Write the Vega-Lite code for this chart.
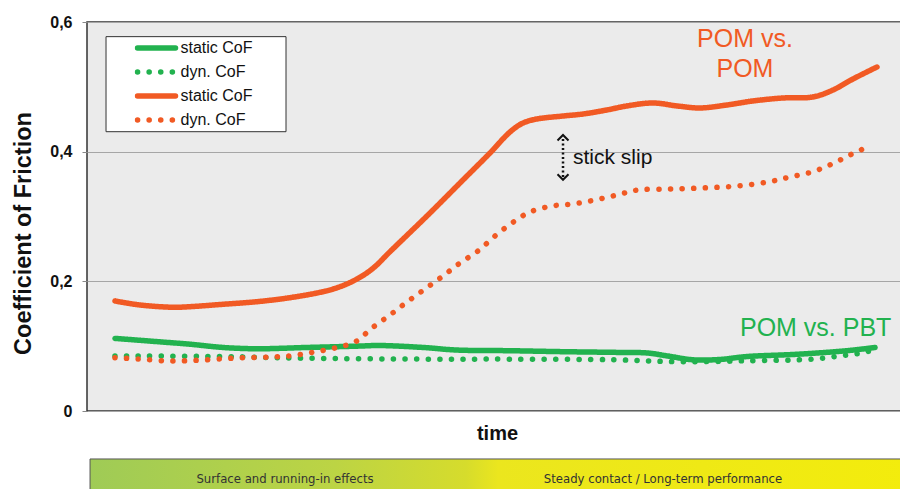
{
  "$schema": "https://vega.github.io/schema/vega-lite/v6.json",
  "width": 820,
  "height": 389,
  "autosize": {"type": "none"},
  "padding": {"left": 87, "top": 22, "right": 0, "bottom": 78},
  "background": "white",
  "config": {
    "view": {"fill": "#ebebeb", "stroke": "#333333", "strokeWidth": 1.5},
    "font": "Liberation Sans"
  },
  "layer": [
    {
      "data": {"values": [{}]},
      "mark": {"type": "rect", "fill": "white", "stroke": "#333333", "strokeWidth": 1},
      "encoding": {
        "x": {"datum": 2.32, "type": "quantitative", "scale": {"domain": [0, 100]}},
        "x2": {"datum": 24.27},
        "y": {"datum": 0.5774, "type": "quantitative", "scale": {"domain": [0, 0.6]}},
        "y2": {"datum": 0.4308}
      }
    },
    {
      "data": {"values": [
        {"series": "1|static CoF", "t": 3.41, "cof": 0.112},
        {"series": "1|static CoF", "t": 8.54, "cof": 0.107},
        {"series": "1|static CoF", "t": 12.56, "cof": 0.103},
        {"series": "1|static CoF", "t": 16.59, "cof": 0.098},
        {"series": "1|static CoF", "t": 20.73, "cof": 0.096},
        {"series": "1|static CoF", "t": 26.83, "cof": 0.098},
        {"series": "1|static CoF", "t": 32.93, "cof": 0.1},
        {"series": "1|static CoF", "t": 35.73, "cof": 0.101},
        {"series": "1|static CoF", "t": 40.98, "cof": 0.098},
        {"series": "1|static CoF", "t": 45.12, "cof": 0.094},
        {"series": "1|static CoF", "t": 51.59, "cof": 0.093},
        {"series": "1|static CoF", "t": 58.05, "cof": 0.0915},
        {"series": "1|static CoF", "t": 64.0, "cof": 0.0905},
        {"series": "1|static CoF", "t": 68.29, "cof": 0.0895},
        {"series": "1|static CoF", "t": 70.73, "cof": 0.085},
        {"series": "1|static CoF", "t": 73.9, "cof": 0.079},
        {"series": "1|static CoF", "t": 77.2, "cof": 0.0795},
        {"series": "1|static CoF", "t": 80.49, "cof": 0.084},
        {"series": "1|static CoF", "t": 86.59, "cof": 0.0875},
        {"series": "1|static CoF", "t": 92.68, "cof": 0.093},
        {"series": "1|static CoF", "t": 96.1, "cof": 0.098},

        {"series": "2|dyn. CoF", "t": 3.41, "cof": 0.085},
        {"series": "2|dyn. CoF", "t": 16.59, "cof": 0.084},
        {"series": "2|dyn. CoF", "t": 26.34, "cof": 0.0815},
        {"series": "2|dyn. CoF", "t": 40.98, "cof": 0.08},
        {"series": "2|dyn. CoF", "t": 51.59, "cof": 0.08},
        {"series": "2|dyn. CoF", "t": 64.15, "cof": 0.079},
        {"series": "2|dyn. CoF", "t": 72.32, "cof": 0.076},
        {"series": "2|dyn. CoF", "t": 80.49, "cof": 0.0775},
        {"series": "2|dyn. CoF", "t": 88.54, "cof": 0.08},
        {"series": "2|dyn. CoF", "t": 91.83, "cof": 0.085},
        {"series": "2|dyn. CoF", "t": 94.27, "cof": 0.089},
        {"series": "2|dyn. CoF", "t": 95.85, "cof": 0.094},

        {"series": "3|static CoF", "t": 3.41, "cof": 0.1697},
        {"series": "3|static CoF", "t": 6.46, "cof": 0.1635},
        {"series": "3|static CoF", "t": 10.49, "cof": 0.16},
        {"series": "3|static CoF", "t": 12.56, "cof": 0.1609},
        {"series": "3|static CoF", "t": 16.59, "cof": 0.1646},
        {"series": "3|static CoF", "t": 20.73, "cof": 0.1686},
        {"series": "3|static CoF", "t": 24.76, "cof": 0.1748},
        {"series": "3|static CoF", "t": 28.78, "cof": 0.184},
        {"series": "3|static CoF", "t": 30.85, "cof": 0.1917},
        {"series": "3|static CoF", "t": 32.93, "cof": 0.2036},
        {"series": "3|static CoF", "t": 34.88, "cof": 0.2201},
        {"series": "3|static CoF", "t": 36.95, "cof": 0.2457},
        {"series": "3|static CoF", "t": 41.83, "cof": 0.3054},
        {"series": "3|static CoF", "t": 45.85, "cof": 0.3563},
        {"series": "3|static CoF", "t": 49.15, "cof": 0.398},
        {"series": "3|static CoF", "t": 51.59, "cof": 0.4304},
        {"series": "3|static CoF", "t": 53.17, "cof": 0.4442},
        {"series": "3|static CoF", "t": 54.88, "cof": 0.4504},
        {"series": "3|static CoF", "t": 58.05, "cof": 0.455},
        {"series": "3|static CoF", "t": 60.49, "cof": 0.4581},
        {"series": "3|static CoF", "t": 63.41, "cof": 0.4643},
        {"series": "3|static CoF", "t": 65.85, "cof": 0.4705},
        {"series": "3|static CoF", "t": 69.02, "cof": 0.4751},
        {"series": "3|static CoF", "t": 71.95, "cof": 0.4705},
        {"series": "3|static CoF", "t": 74.76, "cof": 0.4674},
        {"series": "3|static CoF", "t": 78.05, "cof": 0.472},
        {"series": "3|static CoF", "t": 81.22, "cof": 0.4782},
        {"series": "3|static CoF", "t": 84.88, "cof": 0.4828},
        {"series": "3|static CoF", "t": 88.54, "cof": 0.4844},
        {"series": "3|static CoF", "t": 90.98, "cof": 0.4951},
        {"series": "3|static CoF", "t": 93.41, "cof": 0.5121},
        {"series": "3|static CoF", "t": 96.34, "cof": 0.5306},

        {"series": "4|dyn. CoF", "t": 3.41, "cof": 0.0822},
        {"series": "4|dyn. CoF", "t": 6.22, "cof": 0.0802},
        {"series": "4|dyn. CoF", "t": 10.12, "cof": 0.0771},
        {"series": "4|dyn. CoF", "t": 14.15, "cof": 0.0787},
        {"series": "4|dyn. CoF", "t": 18.29, "cof": 0.0818},
        {"series": "4|dyn. CoF", "t": 22.32, "cof": 0.0833},
        {"series": "4|dyn. CoF", "t": 25.0, "cof": 0.0853},
        {"series": "4|dyn. CoF", "t": 27.56, "cof": 0.0905},
        {"series": "4|dyn. CoF", "t": 30.24, "cof": 0.0972},
        {"series": "4|dyn. CoF", "t": 32.68, "cof": 0.1064},
        {"series": "4|dyn. CoF", "t": 34.76, "cof": 0.128},
        {"series": "4|dyn. CoF", "t": 36.95, "cof": 0.1481},
        {"series": "4|dyn. CoF", "t": 39.02, "cof": 0.1681},
        {"series": "4|dyn. CoF", "t": 41.22, "cof": 0.1882},
        {"series": "4|dyn. CoF", "t": 43.41, "cof": 0.2082},
        {"series": "4|dyn. CoF", "t": 45.49, "cof": 0.2283},
        {"series": "4|dyn. CoF", "t": 47.68, "cof": 0.2468},
        {"series": "4|dyn. CoF", "t": 49.76, "cof": 0.2699},
        {"series": "4|dyn. CoF", "t": 51.83, "cof": 0.29},
        {"series": "4|dyn. CoF", "t": 54.02, "cof": 0.307},
        {"series": "4|dyn. CoF", "t": 56.71, "cof": 0.3162},
        {"series": "4|dyn. CoF", "t": 59.27, "cof": 0.3193},
        {"series": "4|dyn. CoF", "t": 61.95, "cof": 0.3255},
        {"series": "4|dyn. CoF", "t": 64.63, "cof": 0.3332},
        {"series": "4|dyn. CoF", "t": 67.2, "cof": 0.3409},
        {"series": "4|dyn. CoF", "t": 71.1, "cof": 0.3424},
        {"series": "4|dyn. CoF", "t": 75.12, "cof": 0.344},
        {"series": "4|dyn. CoF", "t": 79.27, "cof": 0.347},
        {"series": "4|dyn. CoF", "t": 83.05, "cof": 0.3532},
        {"series": "4|dyn. CoF", "t": 85.73, "cof": 0.3609},
        {"series": "4|dyn. CoF", "t": 88.41, "cof": 0.3687},
        {"series": "4|dyn. CoF", "t": 90.85, "cof": 0.381},
        {"series": "4|dyn. CoF", "t": 93.29, "cof": 0.3964},
        {"series": "4|dyn. CoF", "t": 95.73, "cof": 0.4103}
      ]},
      "mark": {"type": "line", "strokeWidth": 5.5, "strokeCap": "round", "strokeJoin": "round", "interpolate": "catmull-rom"},
      "encoding": {
        "x": {"field": "t", "type": "quantitative", "scale": {"domain": [0, 100]},
              "axis": {"labels": false, "ticks": false, "domain": false, "grid": false,
                       "title": "time", "titleFont": "Liberation Sans", "titleFontSize": 20, "titleFontWeight": "bold",
                       "titleColor": "#111111", "titlePadding": 12}},
        "y": {"field": "cof", "type": "quantitative", "scale": {"domain": [0, 0.6], "nice": false},
              "axis": {"values": [0, 0.2, 0.4, 0.6], "domain": false, "tickSize": 5, "tickColor": "#888888",
                       "grid": true, "gridColor": "#a6a6a6", "gridWidth": 1,
                       "labelExpr": "datum.value == 0 ? '0' : replace(format(datum.value, '.1f'), '.', ',')",
                       "labelFont": "Liberation Sans", "labelFontSize": 16, "labelFontWeight": "bold", "labelColor": "#111111",
                       "labelPadding": 10,
                       "title": "Coefficient of Friction", "titleFont": "Liberation Sans", "titleFontSize": 23.5,
                       "titleFontWeight": "bold", "titleColor": "#111111",
                       "titleX": -64, "titleY": 211, "titleAngle": -90, "titleAlign": "center", "titleBaseline": "middle"}},
        "color": {"field": "series", "type": "nominal",
                  "scale": {"domain": ["1|static CoF", "2|dyn. CoF", "3|static CoF", "4|dyn. CoF"],
                            "range": ["#22b24f", "#22b24f", "#f15a24", "#f15a24"]},
                  "legend": {"orient": "none", "legendX": 47.5, "legendY": 18, "title": null,
                             "symbolType": "stroke", "symbolSize": 1444, "symbolStrokeWidth": 5.5,
                             "labelExpr": "split(datum.label, '|')[1]", "labelFont": "Liberation Sans",
                             "labelFontSize": 16, "labelColor": "#111111", "labelOffset": 2,
                             "clipHeight": 16, "rowPadding": 8, "padding": 0,
                             "encode": {"symbols": {"update": {"strokeCap": {"value": "round"}}}}}},
        "strokeDash": {"field": "series", "type": "nominal",
                       "scale": {"domain": ["1|static CoF", "2|dyn. CoF", "3|static CoF", "4|dyn. CoF"],
                                 "range": [[1, 0], [0.1, 11.5], [1, 0], [0.1, 11.5]]}}
      }
    },
    {
      "data": {"values": [{}]},
      "mark": {"type": "rule", "stroke": "#111111", "strokeWidth": 2.5, "strokeDash": [2, 2.5]},
      "encoding": {
        "x": {"datum": 58.05, "type": "quantitative"},
        "y": {"datum": 0.4196, "type": "quantitative"},
        "y2": {"datum": 0.3579}
      }
    },
    {
      "data": {"values": [{}]},
      "mark": {"type": "point", "shape": "M-1,0.5L0,-0.5L1,0.5", "filled": false, "stroke": "#111111", "strokeWidth": 2, "size": 121, "opacity": 1},
      "encoding": {
        "x": {"datum": 58.05, "type": "quantitative"},
        "y": {"datum": 0.4215, "type": "quantitative"}
      }
    },
    {
      "data": {"values": [{}]},
      "mark": {"type": "point", "shape": "M-1,-0.5L0,0.5L1,-0.5", "filled": false, "stroke": "#111111", "strokeWidth": 2, "size": 121, "opacity": 1},
      "encoding": {
        "x": {"datum": 58.05, "type": "quantitative"},
        "y": {"datum": 0.3609, "type": "quantitative"}
      }
    },
    {
      "data": {"values": [{}]},
      "mark": {"type": "text", "text": "stick slip", "font": "Liberation Sans", "fontSize": 21, "color": "#111111", "align": "left", "baseline": "alphabetic"},
      "encoding": {
        "x": {"datum": 59.27, "type": "quantitative"},
        "y": {"datum": 0.381, "type": "quantitative"}
      }
    },
    {
      "data": {"values": [{}]},
      "mark": {"type": "text", "text": ["POM vs.", "POM"], "lineHeight": 30, "font": "Liberation Sans", "fontSize": 25, "color": "#f15a24", "align": "center", "baseline": "alphabetic"},
      "encoding": {
        "x": {"datum": 80.24, "type": "quantitative"},
        "y": {"datum": 0.5615, "type": "quantitative"}
      }
    },
    {
      "data": {"values": [{}]},
      "mark": {"type": "text", "text": "POM vs. PBT", "font": "Liberation Sans", "fontSize": 25, "color": "#22b24f", "align": "left", "baseline": "alphabetic"},
      "encoding": {
        "x": {"datum": 79.63, "type": "quantitative"},
        "y": {"datum": 0.1157, "type": "quantitative"}
      }
    },
    {
      "data": {"values": [{}]},
      "mark": {"type": "rect", "stroke": "#555555", "strokeWidth": 1,
               "fill": {"gradient": "linear", "x1": 0, "x2": 1, "y1": 0, "y2": 0,
                        "stops": [{"offset": 0, "color": "#9fcb56"}, {"offset": 0.3, "color": "#bcd444"},
                                  {"offset": 0.46, "color": "#d6dc2c"}, {"offset": 0.5, "color": "#ebe61e"},
                                  {"offset": 1, "color": "#f3ec0c"}]}},
      "encoding": {
        "x": {"datum": 0.37, "type": "quantitative"},
        "x2": {"datum": 100},
        "y": {"datum": -0.074, "type": "quantitative"},
        "y2": {"datum": -0.2}
      }
    },
    {
      "data": {"values": [{}]},
      "mark": {"type": "text", "text": "Surface and running-in effects", "font": "Liberation Sans Narrow, DejaVu Sans Condensed, Liberation Sans", "fontSize": 13, "color": "#333333", "align": "center", "baseline": "middle"},
      "encoding": {
        "x": {"datum": 24.15, "type": "quantitative"},
        "y": {"datum": -0.1049, "type": "quantitative"}
      }
    },
    {
      "data": {"values": [{}]},
      "mark": {"type": "text", "text": "Steady contact / Long-term performance", "font": "Liberation Sans Narrow, DejaVu Sans Condensed, Liberation Sans", "fontSize": 13, "color": "#333333", "align": "center", "baseline": "middle"},
      "encoding": {
        "x": {"datum": 70.24, "type": "quantitative"},
        "y": {"datum": -0.1049, "type": "quantitative"}
      }
    }
  ]
}
